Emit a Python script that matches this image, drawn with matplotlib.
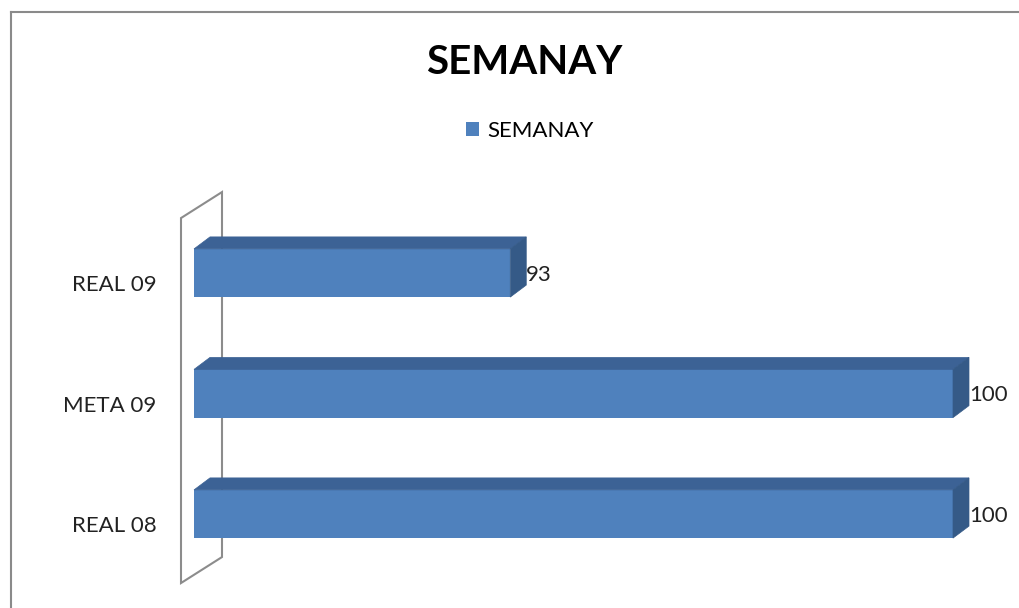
import matplotlib
matplotlib.use('Agg')
import matplotlib.pyplot as plt
from matplotlib.patches import Polygon
from matplotlib.lines import Line2D
from matplotlib.transforms import ScaledTranslation

# datos del grafico
categories = ['REAL 08', 'META 09', 'REAL 09']
values = [100, 100, 93]
series_name = 'SEMANAY'
title = 'SEMANAY'

plt.rcParams['font.family'] = ['Lato', 'DejaVu Sans']

W, H = 1019, 608
fig = plt.figure(figsize=(W / 100, H / 100), dpi=100)
ax = fig.add_axes([194 / W, (H - 586.3) / H, 759 / W, 385.6 / H])
x_min, x_max = 88, 100
ax.set_xlim(x_min, x_max)
ax.set_ylim(-0.6, 2.6)
for s in ax.spines.values():
    s.set_visible(False)
ax.set_xticks([])

front = '#4F81BD'
top_c = '#3C6295'
side_c = '#355A87'

# pixeles -> unidades de datos
px_x = 759 / (x_max - x_min)
px_y = 120.5
dx, dy = 16 / px_x, 12 / px_y
bh = 0.4

ys = list(range(len(categories)))
bars = ax.barh(ys, [v - x_min for v in values], left=x_min, height=bh,
               color=front, label=series_name, zorder=3)

for y, v in zip(ys, values):
    yb, yt = y - bh / 2, y + bh / 2
    top = [(x_min, yt), (v, yt), (v + dx, yt + dy), (x_min + dx, yt + dy)]
    side = [(v, yb), (v, yt), (v + dx, yt + dy), (v + dx, yb + dy)]
    ax.add_patch(Polygon(top, closed=True, facecolor=top_c, edgecolor=top_c,
                         lw=0.5, zorder=3, clip_on=False))
    ax.add_patch(Polygon(side, closed=True, facecolor=side_c, edgecolor=side_c,
                         lw=0.5, zorder=3, clip_on=False))
    ax.text(v + dx, y - 2 / px_y, '%d' % v, ha='left', va='center', fontsize=16,
            color='#222222', clip_on=False)

# pared lateral 3d
wx = x_min - 13 / px_x
wdx, wdy = 41 / px_x, 26 / px_y
y_lo, y_hi = -0.573, 2.456
wall = [(wx, y_lo), (wx, y_hi), (wx + wdx, y_hi + wdy), (wx + wdx, y_lo + wdy)]
ax.add_patch(Polygon(wall, closed=True, facecolor='none', edgecolor='#8c8c8c',
                     lw=1.5, zorder=1, clip_on=False))

ax.set_yticks(ys, categories)
ax.tick_params(axis='y', length=0, pad=27, labelsize=16, labelcolor='#222222')
for lab in ax.get_yticklabels():
    lab.set_transform(lab.get_transform() + ScaledTranslation(0, -7.5 / 72, fig.dpi_scale_trans))

fig.text(524.5 / W, 1 - 62 / H, title, fontsize=29, fontweight='bold',
         ha='center', va='center')
fig.legend(handles=[bars], loc='center', bbox_to_anchor=(529.5 / W, 1 - 131 / H),
           frameon=False, fontsize=16, handlelength=0.62, handleheight=0.62,
           handletextpad=0.35)

# borde del area del grafico (solo arriba e izquierda)
fig.add_artist(Line2D([11 / W, 11 / W], [-0.05, 1 - 12 / H], color='#8a8a8a', lw=1.5))
fig.add_artist(Line2D([11 / W, 1.05], [1 - 12 / H, 1 - 12 / H], color='#8a8a8a', lw=1.5))

fig.savefig('out.png', dpi=100)
